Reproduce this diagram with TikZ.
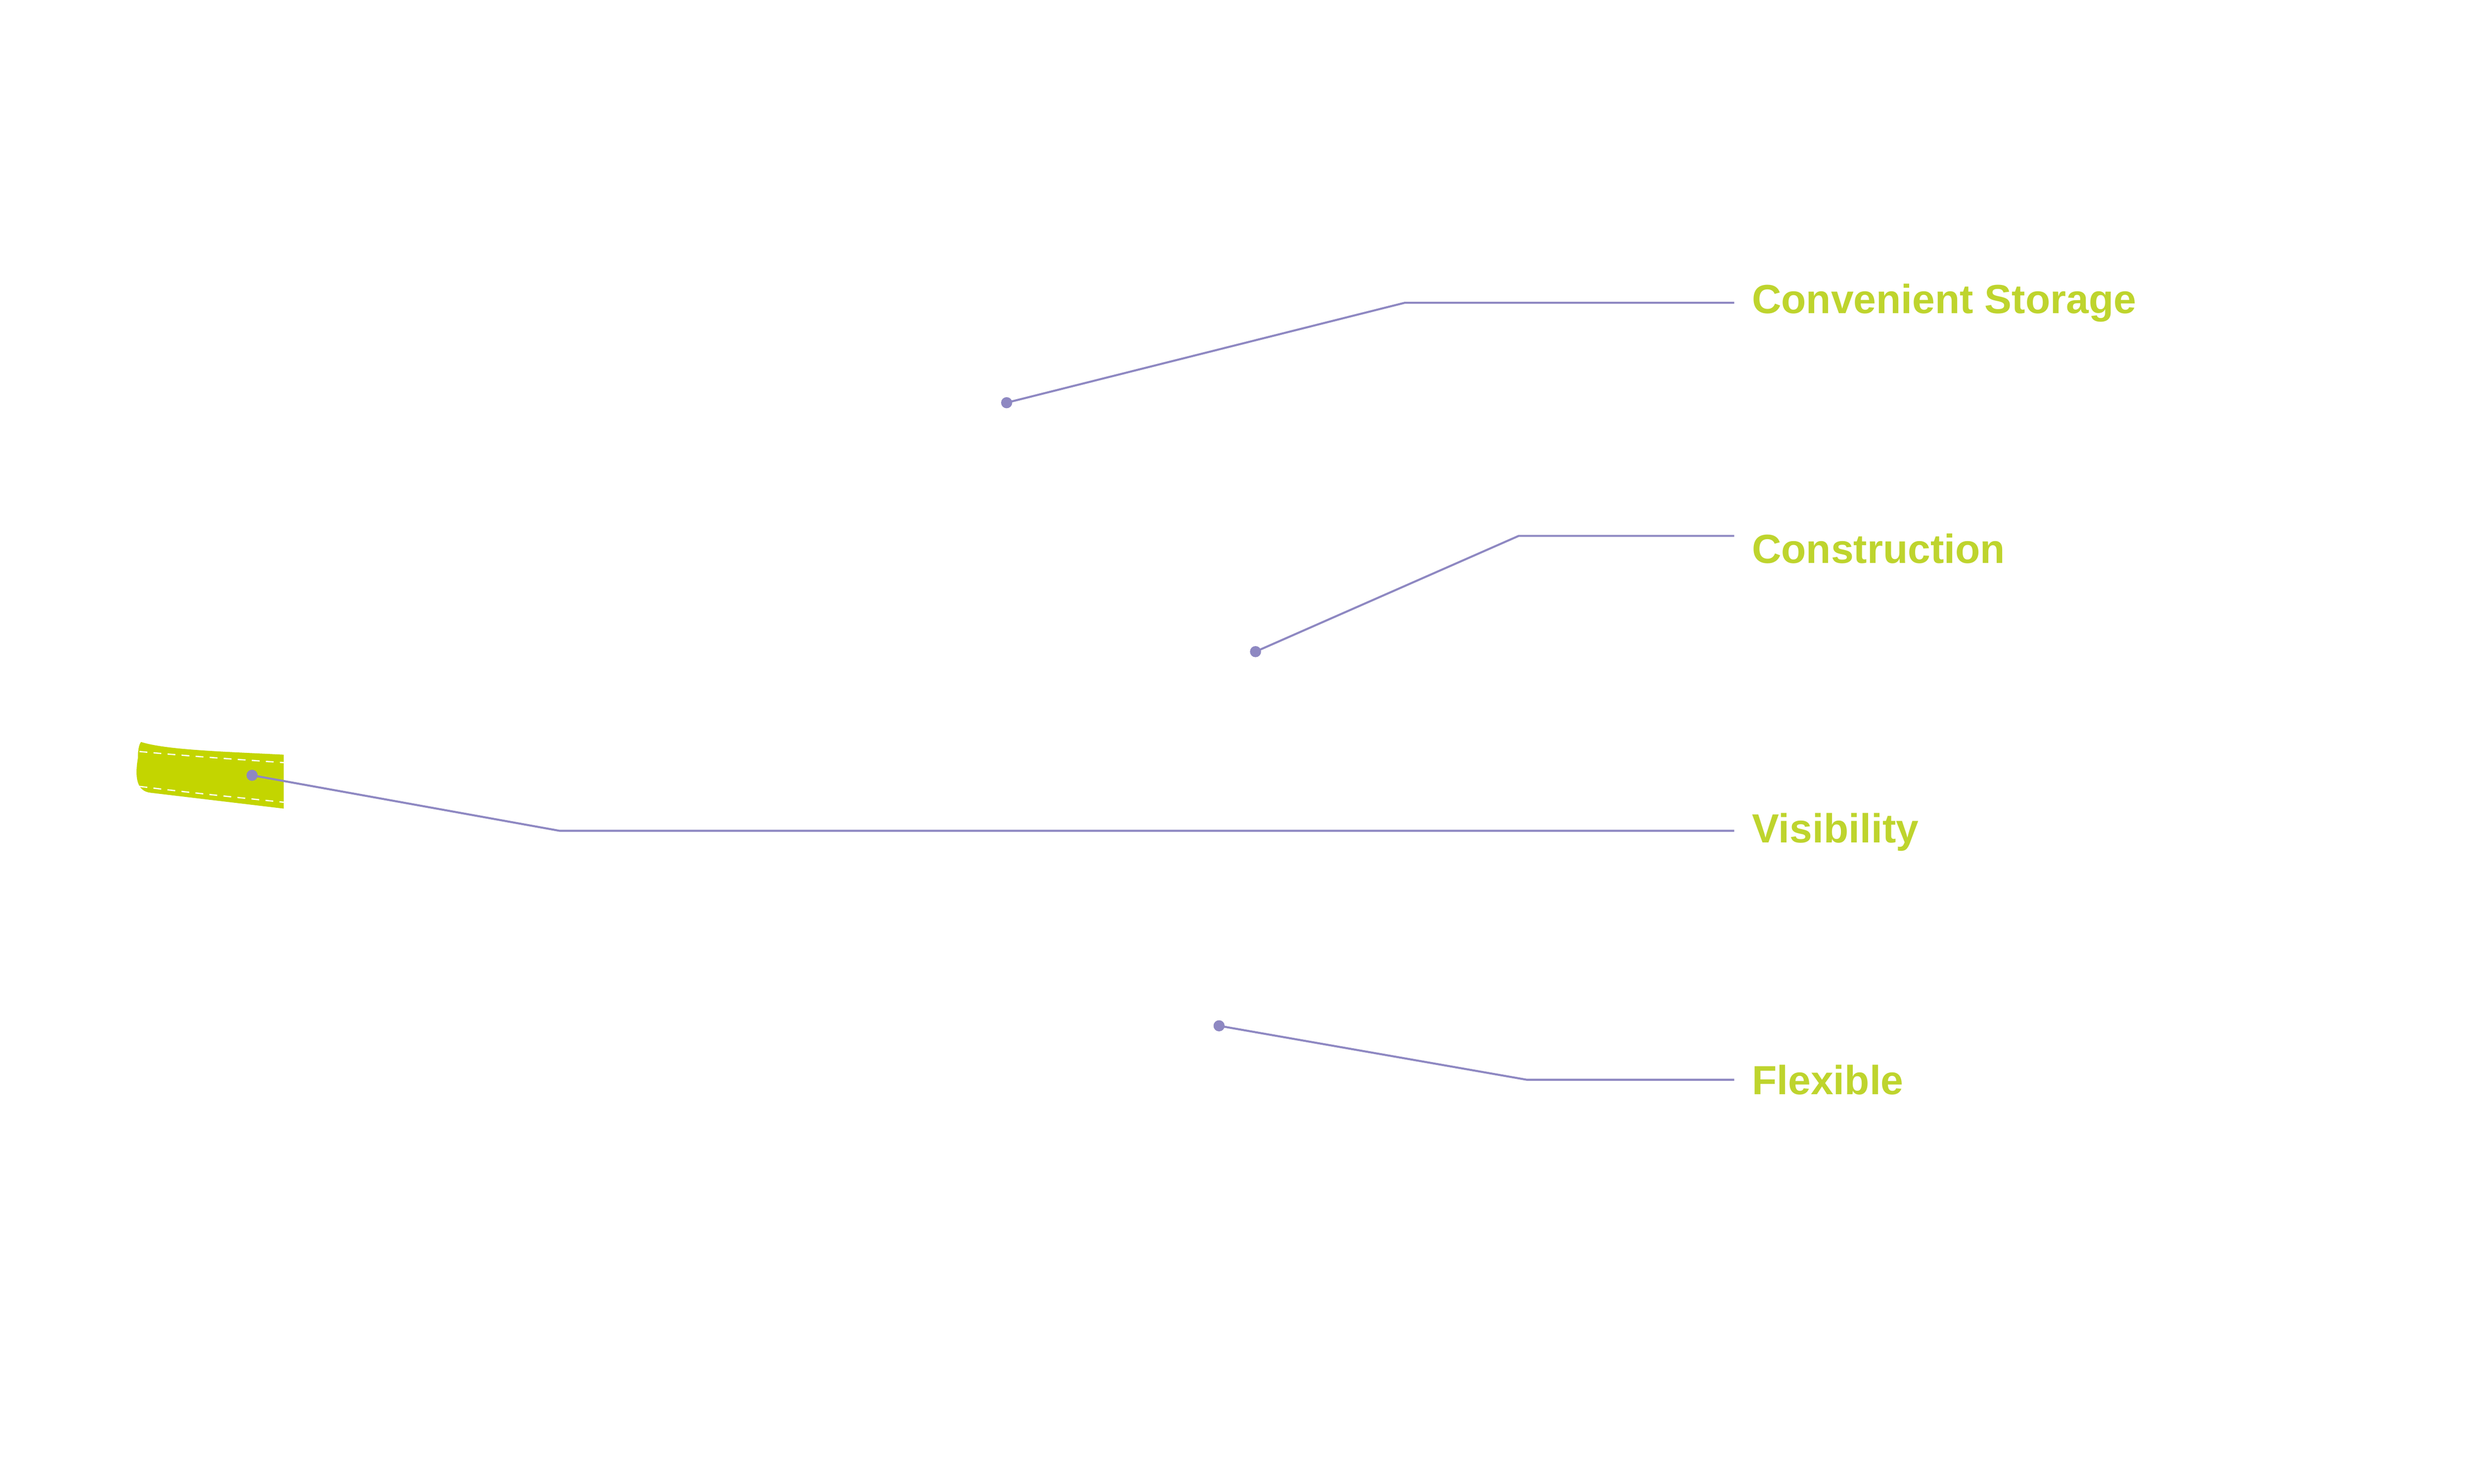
\documentclass[tikz,border=0pt]{standalone}
\usepackage{fontspec}
\setmainfont{Liberation Sans}
\usetikzlibrary{positioning}
\definecolor{lime}{RGB}{195,213,0}
\definecolor{limetext}{RGB}{190,212,45}
\definecolor{lilac}{RGB}{142,136,194}

\begin{document}
\begin{tikzpicture}[x=0.03561cm, y=-0.03561cm,
    dot/.style={circle, fill=lilac, inner sep=0pt, minimum size=0.25cm},
    tagtext/.style={anchor=west, text=limetext, font=\fontsize{26}{30}\selectfont\bfseries, inner sep=0pt},
    leader/.style={draw=lilac, line width=1.3pt}
]
    \useasboundingbox (0,0) rectangle (1560,936);

    % Tab
    \fill[lime] (89,468) .. controls (105,473) and (140,474) .. (179,476)
        -- (179,510) -- (95,500) .. controls (86,499) and (85,490) .. (87,478)
        .. controls (87,472) and (88,469) .. (89,468) -- cycle;
    \draw[white, line width=0.8pt, dash pattern=on 5pt off 4pt]
        (88,474) .. controls (120,477) and (150,479) .. (179,481);
    \draw[white, line width=0.8pt, dash pattern=on 5pt off 4pt]
        (88,496) .. controls (120,500) and (150,503) .. (179,506);

    % Labels
    \node[tagtext] (storage) at (1105,191) {Convenient Storage};
    \node[tagtext] (construction) at (1105,346) {Construction};
    \node[tagtext] (visibility) at (1105,525) {Visibility};
    \node[tagtext] (flexible) at (1105,681) {Flexible};

    % Points
    \node[dot] (pstorage) at (635,254) {};
    \node[dot] (pconstruction) at (792,411) {};
    \node[dot] (pvisibility) at (159,489) {};
    \node[dot] (pflexible) at (769,647) {};

    \coordinate (bstorage) at (886,191);
    \coordinate (bconstruction) at (958,338);
    \coordinate (bvisibility) at (353,524);
    \coordinate (bflexible) at (963,681);

    \coordinate (estorage) at (1094,191);
    \coordinate (econstruction) at (1094,338);
    \coordinate (evisibility) at (1094,524);
    \coordinate (eflexible) at (1094,681);

    % Leaders
    \draw[leader] (pstorage.center) -- (bstorage) -- (estorage);
    \draw[leader] (pconstruction.center) -- (bconstruction) -- (econstruction);
    \draw[leader] (pvisibility.center) -- (bvisibility) -- (evisibility);
    \draw[leader] (pflexible.center) -- (bflexible) -- (eflexible);
\end{tikzpicture}
\end{document}
